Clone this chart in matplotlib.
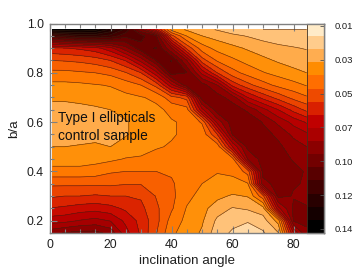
import numpy as np
import matplotlib
matplotlib.use('Agg')
import matplotlib.pyplot as plt
from matplotlib.colors import ListedColormap, LinearSegmentedColormap
from matplotlib.ticker import MultipleLocator

plt.rcParams['font.family'] = ['Liberation Sans', 'DejaVu Sans']

inclination = [1, 5, 10, 15, 20, 25, 30, 35, 40, 45, 50, 55, 60, 65, 70, 75, 80, 84.3]
b_over_a = [0.15, 0.20, 0.25, 0.30, 0.35, 0.40, 0.45, 0.50, 0.55, 0.60, 0.65, 0.70, 0.75, 0.80, 0.85, 0.90, 0.95, 0.975]

# in colour bar boxes (0 = top box, 16 = bottom edge), one row per b/a
steps = [
    [9.5, 9.8, 10, 10, 9.5, 7.8, 6.6, 5.3, 3.9, 3.4, 2.9, 1.8, 1.4, 1.2, 1.4, 2.2, 7.5, 9.7],
    [7.9, 8, 8.3, 8.5, 8.2, 7.3, 6.5, 5.5, 4.2, 3.55, 3.1, 2.1, 1.7, 1.55, 1.9, 3.3, 9.8, 9.8],
    [6.8, 6.9, 7.1, 7.2, 7, 6.6, 6.2, 5.4, 4.6, 3.7, 3.25, 2.6, 2.2, 2.35, 2.7, 8, 9.9, 9.8],
    [5.9, 6, 6, 6.1, 6, 6, 5.9, 5.2, 4.7, 3.95, 3.5, 3.2, 2.9, 3.05, 5, 10, 9.7, 9.6],
    [5.1, 5.1, 5.1, 5.1, 5.1, 5.2, 5.2, 5, 4.6, 4.1, 3.75, 3.5, 3.6, 3.7, 9.5, 10, 9.8, 9.7],
    [4, 4, 4, 4.1, 4.4, 4.5, 4.5, 4.5, 4.4, 4.3, 3.85, 3.8, 3.85, 4.8, 10, 10, 9.9, 9.7],
    [3.4, 3.4, 3.4, 3.5, 3.6, 3.8, 3.85, 3.95, 4, 4.1, 3.9, 3.85, 4.2, 9, 10.1, 10, 9.7, 9.4],
    [3, 3, 3.05, 3.1, 3, 3.25, 3.45, 3.7, 3.8, 3.95, 3.9, 4, 7.5, 10, 10.1, 9.9, 9.4, 9],
    [2.8, 2.75, 2.75, 2.8, 2.8, 2.95, 3.2, 3.45, 3.7, 3.85, 3.95, 6, 9.8, 10.2, 10, 9.6, 8.8, 8.4],
    [2.7, 2.65, 2.65, 2.7, 2.8, 2.95, 3.2, 3.4, 3.7, 3.85, 4.6, 8.5, 10.2, 10.3, 9.7, 8.8, 8, 7.4],
    [2.8, 2.8, 2.85, 2.9, 3, 3.2, 3.4, 3.6, 3.9, 4.2, 8, 10.2, 10.2, 9.6, 8.5, 7.5, 6.5, 5.8],
    [3.1, 3.1, 3.15, 3.25, 3.4, 3.55, 3.7, 3.9, 5, 5.5, 10.2, 10.1, 9.4, 7.5, 6.5, 5.7, 5, 4.6],
    [3.55, 3.55, 3.6, 3.7, 3.8, 4.1, 4.5, 5.5, 8, 10.2, 10.1, 9, 6.5, 5.5, 4.8, 4.3, 4, 3.7],
    [4.3, 4.3, 4.4, 4.5, 4.7, 5.2, 6, 8, 10.9, 10.5, 8, 6, 4.8, 4.2, 3.8, 3.5, 3.2, 3],
    [5.25, 5.3, 5.4, 5.6, 6, 6.8, 8.5, 10.5, 11.3, 9, 5.6, 4.4, 3.9, 3.5, 3.2, 2.9, 2.7, 2.6],
    [6.6, 6.7, 6.9, 7.2, 8, 9.5, 11, 11.3, 9, 5.8, 4.1, 3.5, 3.2, 2.9, 2.6, 2.4, 2.3, 2.2],
    [12, 12.5, 13, 13, 12.5, 11.5, 11.5, 10.5, 5.5, 3.7, 3, 2.7, 2.4, 2.2, 2, 1.9, 1.8, 1.7],
    [15.5, 15.5, 15.5, 15.3, 14, 12.5, 10, 7, 3.5, 2.9, 2.5, 2.2, 1.9, 1.7, 1.5, 1.5, 1.5, 1.5],
]

box_colors = ['#FFEBC8', '#FFCC8C', '#FFAD50', '#FF8C00', '#FF6E00', '#EE4A00', '#D92000', '#C00000',
              '#AA0000', '#8B0000', '#720000', '#580000', '#400000', '#280000', '#140000', '#000000']
bar_ticks = [0.01, 0.0317, 0.0533, 0.075, 0.0967, 0.1183, 0.14]
bar_labels = ['0.01', '0.03', '0.05', '0.07', '0.10', '0.12', '0.14']

GREY = '#808080'
W, H = 357, 268
v_top, v_bot = 0.0084, 0.1426
box_h = (v_bot - v_top) / 16


def px_axes(left, right, top, bottom):
    return fig.add_axes([left / W, 1 - bottom / H, (right - left) / W, (bottom - top) / H])


fig = plt.figure(figsize=(W / 100, H / 100), dpi=100)
ax = px_axes(49.5, 324, 23.5, 233)

values = v_top + box_h * np.array(steps)
levels = v_top + box_h * np.arange(0.75, 16.01, 0.75)
# colours sit at the middle of each box
pos = (np.arange(16) + 0.5) / 16
cmap = LinearSegmentedColormap.from_list(
    'bar', [(0, box_colors[0])] + list(zip(pos, box_colors)) + [(1, box_colors[-1])], N=256)

ax.contourf(inclination, b_over_a, values, levels=levels, cmap=cmap, vmin=v_top, vmax=v_bot, extend='both')
ax.contour(inclination, b_over_a, values, levels=levels, colors='#402010', linewidths=0.45, alpha=0.8)

ax.set_xlim(0, 90)
ax.set_ylim(0.15, 1.0)
ax.xaxis.set_major_locator(MultipleLocator(20))
ax.xaxis.set_minor_locator(MultipleLocator(5))
ax.yaxis.set_minor_locator(MultipleLocator(0.05))
ax.set_yticks([0.2, 0.4, 0.6, 0.8, 1.0])
ax.set_yticklabels(['0.2', '0.4', '0.6', '0.8', '1.0'])
ax.tick_params(which='major', direction='in', length=5, width=0.8, color=GREY, top=True, right=False,
               labelsize=8.8, pad=4, labelcolor='#202020')
ax.tick_params(which='minor', direction='in', length=3, width=0.8, color=GREY, top=True, right=False)
for s in ax.spines.values():
    s.set_color(GREY)
    s.set_linewidth(1.0)
ax.set_xlabel('inclination angle', fontsize=9.6, labelpad=3, color='#202020')
ax.set_ylabel('b/a', fontsize=9.6, labelpad=5, color='#202020')

ax.text(2.8, 0.616, 'Type I ellipticals', fontsize=9.9, va='center', color='#101010')
ax.text(2.8, 0.543, 'control sample', fontsize=9.9, va='center', color='#101010')

# colour bar sits over the right end of the plot
cax = px_axes(306.5, 324, 23.5, 233)
cax.imshow(np.arange(16).reshape(-1, 1), cmap=ListedColormap(box_colors), aspect='auto',
           extent=[0, 1, v_bot, v_top], interpolation='nearest')
cax.set_xticks([])
cax.set_ylim(v_bot, v_top)
cax.yaxis.tick_right()
cax.set_yticks(bar_ticks)
cax.set_yticklabels(bar_labels)
cax.tick_params(axis='y', direction='in', length=3, width=0.6, color='#505050', labelsize=6.8, pad=8,
                labelcolor='#202020')
for s in cax.spines.values():
    s.set_color(GREY)
    s.set_linewidth(1.0)
cax.spines['left'].set_color('#403020')
cax.spines['left'].set_linewidth(0.6)

fig.savefig('out.png', dpi=100)
